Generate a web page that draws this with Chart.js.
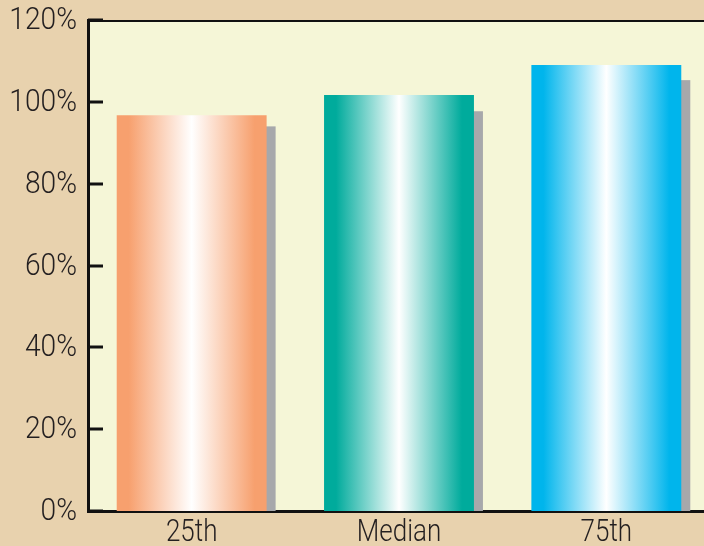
<!DOCTYPE html>
<html>
<head>
<meta charset="utf-8">
<script src="https://cdn.jsdelivr.net/npm/chart.js@4/dist/chart.umd.min.js"></script>
<style>
  html, body { margin: 0; padding: 0; overflow: hidden; background: #E8D2AE; }
  #wrap { width: 710px; height: 546px; }
</style>
</head>
<body>
<div id="wrap"><canvas id="chart"></canvas></div>
<script>
const categories = ["25th", "Median", "75th"];
const values = [96.7, 101.7, 109];
const shadowValues = [94, 97.7, 105.3];
const barColors = ["#F7A06E", "#00AB9C", "#00B5EC"];
const yTicks = [0, 20, 40, 60, 80, 100, 120];

// narrow look for labels: Roboto light, squeezed horizontally
const FONT = "Roboto, 'DejaVu Sans', sans-serif";
const ctx = document.getElementById("chart").getContext("2d");

function barGradient(context) {
  const chart = context.chart;
  const color = barColors[context.dataIndex];
  if (!chart.chartArea || !chart.scales.x) return color;
  const xs = chart.scales.x;
  const cx = xs.getPixelForValue(context.dataIndex);
  const w = (xs.width / categories.length) * 0.723;
  const g = chart.ctx.createLinearGradient(cx - w / 2, 0, cx + w / 2, 0);
  g.addColorStop(0, color);
  g.addColorStop(0.08, color);
  g.addColorStop(0.5, "#FFFFFF");
  g.addColorStop(0.92, color);
  g.addColorStop(1, color);
  return g;
}

function squeezedText(c, text, x, y, size, sx, align, baseline) {
  c.save();
  c.font = "300 " + size + "px " + FONT;
  c.textAlign = align;
  c.textBaseline = baseline;
  c.translate(x, y);
  c.scale(sx, 1);
  c.fillText(text, 0, 0);
  c.restore();
}

const decor = {
  id: "decor",
  beforeDraw(chart) {
    const a = chart.chartArea;
    const c = chart.ctx;
    c.save();
    c.fillStyle = "#F5F6D7";
    c.fillRect(a.left, a.top, a.right - a.left, a.bottom - a.top);
    c.restore();
  },
  beforeDatasetsDraw(chart) {
    const c = chart.ctx;
    const ys = chart.scales.y;
    const meta = chart.getDatasetMeta(0);
    c.save();
    c.fillStyle = "#A7A8AB";
    meta.data.forEach((bar, i) => {
      const top = ys.getPixelForValue(shadowValues[i]);
      const left = bar.x - bar.width / 2 + 9;
      c.fillRect(left, top, bar.width, bar.base - top);
    });
    c.restore();
  },
  afterDraw(chart) {
    const a = chart.chartArea;
    const c = chart.ctx;
    const ys = chart.scales.y;
    const xs = chart.scales.x;
    c.save();
    c.strokeStyle = "#111111";
    c.lineWidth = 2;
    c.beginPath();
    c.moveTo(a.left, a.top + 1);
    c.lineTo(a.right, a.top + 1);
    c.stroke();
    c.lineWidth = 3;
    yTicks.forEach((v) => {
      const y = Math.round(ys.getPixelForValue(v));
      c.beginPath();
      c.moveTo(a.left, y);
      c.lineTo(a.left + 15, y);
      c.stroke();
    });
    c.fillStyle = "#231F20";
    yTicks.forEach((v) => {
      squeezedText(c, v + "%", a.left - 11, ys.getPixelForValue(v) + 1, 32, 0.88, "right", "middle");
    });
    categories.forEach((label, i) => {
      squeezedText(c, label, xs.getPixelForValue(i), a.bottom + 30, 31, 0.84, "center", "alphabetic");
    });
    c.restore();
  },
};

new Chart(ctx, {
  type: "bar",
  data: {
    labels: categories,
    datasets: [
      {
        data: values,
        backgroundColor: barGradient,
        borderWidth: 0,
        barPercentage: 0.723,
        categoryPercentage: 1,
      },
    ],
  },
  options: {
    responsive: true,
    maintainAspectRatio: false,
    animation: false,
    layout: { padding: { top: 20, right: 0, left: 0, bottom: 0 } },
    plugins: {
      legend: { display: false },
      tooltip: { enabled: false },
    },
    scales: {
      x: {
        afterFit(scale) { scale.height = 35; },
        grid: { display: false, drawTicks: false },
        border: { display: true, color: "#111111", width: 3 },
        ticks: { display: false },
      },
      y: {
        min: 0,
        max: 120,
        afterFit(scale) { scale.width = 88; },
        afterBuildTicks(scale) { scale.ticks = yTicks.map((v) => ({ value: v })); },
        grid: { display: false, drawTicks: false },
        border: { display: true, color: "#111111", width: 3 },
        ticks: { display: false },
      },
    },
  },
  plugins: [decor],
});
</script>
</body>
</html>
